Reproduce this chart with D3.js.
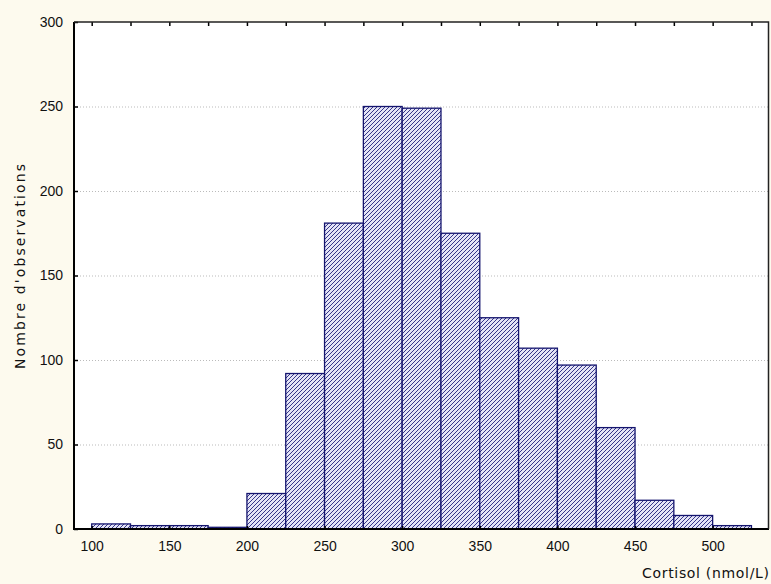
<!DOCTYPE html>
<html>
<head>
<meta charset="utf-8">
<script src="https://cdn.jsdelivr.net/npm/d3@7"></script>
<style>
	body { margin: 0; background: #fdfaee; }
	svg { display: block; }
	text { font-family: Arial, "Liberation Sans", sans-serif; font-size: 14px; fill: #111; }
	text.title { font-family: "DejaVu Sans", Verdana, sans-serif; font-size: 14px; }
</style>
</head>
<body>
<svg id="chart" width="771" height="584"></svg>
<script>

// bins of 25 nmol/L (lower edges) and counts
var binStarts = [100, 125, 150, 175, 200, 225, 250, 275, 300, 325, 350, 375, 400, 425, 450, 475, 500];
var binCounts = [3, 2, 2, 1, 21, 92, 181, 250, 249, 175, 125, 107, 97, 60, 17, 8, 2];
var binWidth = 25;

var xTicks = [100, 150, 200, 250, 300, 350, 400, 450, 500];
var xTopTicks = [100, 125, 150, 175, 200, 225, 250, 275, 300, 325, 350, 375, 400, 425, 450, 475, 500, 525];
var yTicks = [0, 50, 100, 150, 200, 250, 300];

var xLabel = "Cortisol (nmol/L)";
var yLabel = "Nombre d'observations";

var svg = d3.select("#chart");

// plot frame
var plot = { left: 74, top: 22, right: 769, bottom: 529 };

var x = d3.scaleLinear()
	.domain([88.6, 536.3])
	.range([plot.left, plot.right]);

var y = d3.scaleLinear()
	.domain([0, 300])
	.range([plot.bottom, plot.top]);

//### hatch pattern ###
var defs = svg.append("defs");
var pattern = defs.append("pattern")
	.attr("id", "hatch")
	.attr("patternUnits", "userSpaceOnUse")
	.attr("width", 4)
	.attr("height", 4);
pattern.append("rect")
	.attr("width", 4).attr("height", 4)
	.attr("fill", "#e4e4f6");
pattern.append("path")
	.attr("d", "M-1,1 l2,-2 M0,4 l4,-4 M3,5 l2,-2")
	.attr("stroke", "#22227c")
	.attr("stroke-width", 0.9);

// white plot area
svg.append("rect")
	.attr("x", plot.left)
	.attr("y", plot.top)
	.attr("width", plot.right - plot.left)
	.attr("height", plot.bottom - plot.top)
	.attr("fill", "#ffffff");

// dotted grid lines
svg.append("g")
	.selectAll("line")
	.data(yTicks.filter(function(d){ return d > 0 && d < 300; }))
	.enter().append("line")
		.attr("x1", plot.left)
		.attr("x2", plot.right)
		.attr("y1", function(d){ return y(d) + 0.5; })
		.attr("y2", function(d){ return y(d) + 0.5; })
		.attr("stroke", "#bbbbbb")
		.attr("stroke-width", 1)
		.attr("stroke-dasharray", "1,2");

// bars
svg.append("g")
	.selectAll("rect")
	.data(binStarts)
	.enter().append("rect")
		.attr("x", function(d){ return x(d); })
		.attr("y", function(d, i){ return y(binCounts[i]); })
		.attr("width", function(d){ return x(d + binWidth) - x(d); })
		.attr("height", function(d, i){ return y(0) - y(binCounts[i]); })
		.attr("fill", "url(#hatch)")
		.attr("stroke", "#14146e")
		.attr("stroke-width", 1.3);

//### axes ###
var xAxis = svg.append("g")
	.attr("transform", "translate(0," + plot.bottom + ")")
	.call(d3.axisBottom(x).tickValues(xTicks).tickSize(-3).tickPadding(12).tickFormat(d3.format("d")));

var yAxis = svg.append("g")
	.attr("transform", "translate(" + plot.left + ",0)")
	.call(d3.axisLeft(y).tickValues(yTicks).tickSize(-4).tickPadding(11).tickFormat(d3.format("d")));

// top axis ticks (no labels)
var topAxis = svg.append("g")
	.attr("transform", "translate(0," + plot.top + ")")
	.call(d3.axisTop(x).tickValues(xTopTicks).tickSize(-4).tickFormat(""));

[xAxis, yAxis, topAxis].forEach(function(a){
	a.select(".domain").remove();
	a.selectAll(".tick line").attr("stroke", "#000").attr("stroke-width", 1.5);
	a.selectAll(".tick text")
		.style("font-family", "Arial, 'Liberation Sans', sans-serif")
		.style("font-size", "14px")
		.attr("fill", "#111");
});

// frame: thick left/bottom, thin top/right
svg.append("path")
	.attr("d", "M" + plot.left + "," + plot.top + "V" + plot.bottom + "H" + plot.right)
	.attr("fill", "none")
	.attr("stroke", "#000")
	.attr("stroke-width", 2);
svg.append("path")
	.attr("d", "M" + plot.left + "," + plot.top + "H" + (plot.right - 0.5) + "V" + plot.bottom)
	.attr("fill", "none")
	.attr("stroke", "#222")
	.attr("stroke-width", 1.5);

// axis titles (the original font is wide, so stretch the spacing a bit)
svg.append("text")
	.attr("class", "title")
	.attr("x", 642)
	.attr("y", 578)
	.attr("textLength", 127)
	.attr("lengthAdjust", "spacing")
	.text(xLabel);

svg.append("text")
	.attr("class", "title")
	.attr("transform", "translate(25,369) rotate(-90)")
	.attr("textLength", 205)
	.attr("lengthAdjust", "spacing")
	.text(yLabel);

</script>
</body>
</html>
